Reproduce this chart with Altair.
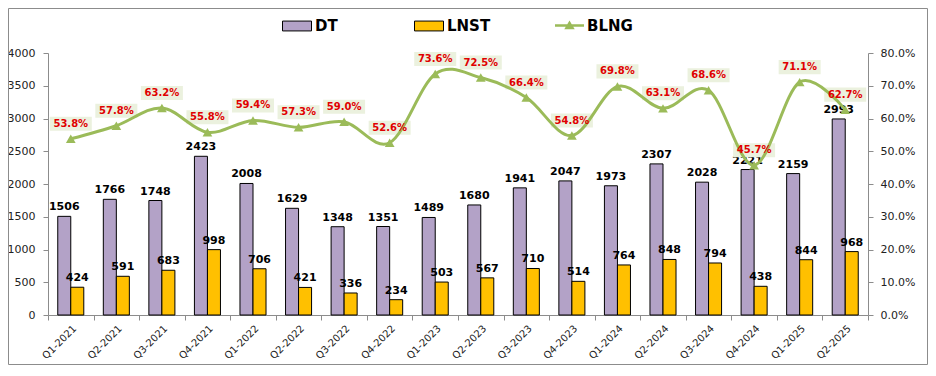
import altair as alt
import pandas as pd

quarters = ["Q1-2021", "Q2-2021", "Q3-2021", "Q4-2021", "Q1-2022", "Q2-2022",
            "Q3-2022", "Q4-2022", "Q1-2023", "Q2-2023", "Q3-2023", "Q4-2023",
            "Q1-2024", "Q2-2024", "Q3-2024", "Q4-2024", "Q1-2025", "Q2-2025"]
dt = [1506, 1766, 1748, 2423, 2008, 1629, 1348, 1351, 1489, 1680, 1941, 2047,
      1973, 2307, 2028, 2221, 2159, 2993]
lnst = [424, 591, 683, 998, 706, 421, 336, 234, 503, 567, 710, 514,
        764, 848, 794, 438, 844, 968]
blng_pct = [53.8, 57.8, 63.2, 55.8, 59.4, 57.3, 59.0, 52.6, 73.6, 72.5, 66.4, 54.8,
            69.8, 63.1, 68.6, 45.7, 71.1, 62.7]
bar_series = ["DT", "LNST"]
bar_colors = ["#B3A2C7", "#FFC000"]
line_series = ["BLNG"]
line_color = "#9BBB59"
left_ticks = [0, 500, 1000, 1500, 2000, 2500, 3000, 3500, 4000]
right_ticks = [0.0, 0.1, 0.2, 0.3, 0.4, 0.5, 0.6, 0.7, 0.8]

bars_df = pd.DataFrame({
    "quarter": quarters * 2,
    "series": ["DT"] * len(quarters) + ["LNST"] * len(quarters),
    "value": dt + lnst,
})
line_df = pd.DataFrame({
    "quarter": quarters,
    "series": line_series * len(quarters),
    "blng": [v / 100 for v in blng_pct],
})

FONT = "DejaVu Sans"
PW, PH = 820, 262
AX = "#8C8C8C"
LBL = "#222222"

bar_legend = alt.Legend(
    title=None, orient="none", legendX=234, legendY=-42, direction="horizontal",
    symbolSize=841, symbolType="M-1,-0.34H1V0.34H-1Z", columnPadding=74,
    symbolStrokeColor="black", symbolStrokeWidth=1, symbolOpacity=1,
    labelFont=FONT, labelFontSize=15, labelFontWeight="bold", labelColor="black",
    labelOffset=3,
)
line_legend = alt.Legend(
    title=None, orient="none", legendX=507, legendY=-42, direction="horizontal",
    symbolSize=841, symbolType="M-1,-0.08H1V0.08H-1Z M-0.36,0.26L0,-0.34L0.36,0.26Z",
    symbolStrokeColor="transparent", symbolStrokeWidth=0, symbolOpacity=1,
    labelFont=FONT, labelFontSize=15, labelFontWeight="bold", labelColor="black",
    labelOffset=3,
)

x_enc = alt.X("quarter:N", sort=quarters,
              scale=alt.Scale(paddingInner=0, paddingOuter=0),
              axis=alt.Axis(title=None, labelAngle=-45, tickBand="extent",
                            labelFont=FONT, labelFontSize=10, labelColor=LBL,
                            domainColor=AX, tickColor=AX, tickSize=5,
                            labelPadding=3))
xoff = alt.XOffset("series:N", sort=bar_series,
                   scale=alt.Scale(paddingOuter=0.75, paddingInner=0))
y_left = alt.Y("value:Q", scale=alt.Scale(domain=[0, 4000], nice=False),
               axis=alt.Axis(title=None, orient="left", values=left_ticks, format="d",
                             labelFont=FONT, labelFontSize=11, labelColor=LBL,
                             domainColor=AX, tickColor=AX, tickSize=5,
                             labelPadding=8))
y_right = alt.Y("blng:Q", scale=alt.Scale(domain=[0, 0.8], nice=False),
                axis=alt.Axis(title=None, orient="right", values=right_ticks, format=".1%",
                              labelFont=FONT, labelFontSize=11, labelColor=LBL,
                              domainColor=AX, tickColor=AX, tickSize=5,
                              labelPadding=7))

bars = alt.Chart(bars_df).mark_bar(stroke="black", strokeWidth=1).encode(
    x=x_enc, xOffset=xoff, y=y_left,
    color=alt.Color("series:N", sort=bar_series,
                    scale=alt.Scale(domain=bar_series, range=bar_colors),
                    legend=bar_legend),
)
bar_text = alt.Chart(bars_df).mark_text(
    dy=-9, font=FONT, fontSize=11, fontWeight="bold", color="black"
).encode(x=x_enc, xOffset=xoff, y=y_left, text=alt.Text("value:Q", format="d"))

left = alt.layer(bars, bar_text)

boxes = alt.Chart(line_df).mark_point(
    shape="M-1,-1.05H1V-0.38H-1Z", size=1764, filled=True, color="#EBF1DE", opacity=1
).encode(x=x_enc, y=y_right)
line = alt.Chart(line_df).mark_line(
    strokeWidth=3, interpolate="cardinal", color=line_color
).encode(x=x_enc, y=y_right)
pts = alt.Chart(line_df).mark_point(
    shape="triangle-up", size=95, filled=True, opacity=1
).encode(
    x=x_enc, y=y_right,
    fill=alt.Fill("series:N", scale=alt.Scale(domain=line_series, range=[line_color]),
                  legend=line_legend),
)
pct_text = alt.Chart(line_df).mark_text(
    dy=-15, font=FONT, fontSize=10, fontWeight="bold", color="#E00000"
).encode(x=x_enc, y=y_right, text=alt.Text("blng:Q", format=".1%"))

frame = alt.Chart(alt.Data(values=[{"a": 1}])).mark_rect(
    fill="transparent", stroke=AX, strokeWidth=1
).encode(x=alt.value(-39.5), x2=alt.value(PW + 59.5), y=alt.value(-44.5), y2=alt.value(PH + 49.5))

right = alt.layer(boxes, line, pts, pct_text)

chart = alt.layer(left, right, frame).resolve_scale(y="independent").properties(
    width=PW, height=PH,
    autosize=alt.AutoSizeParams(type="none"),
    padding={"left": 40, "top": 45, "right": 60, "bottom": 50},
).configure_view(stroke="transparent").configure_axis(grid=False)

chart.save("out.html", embed_options={"renderer": "svg", "actions": False})
